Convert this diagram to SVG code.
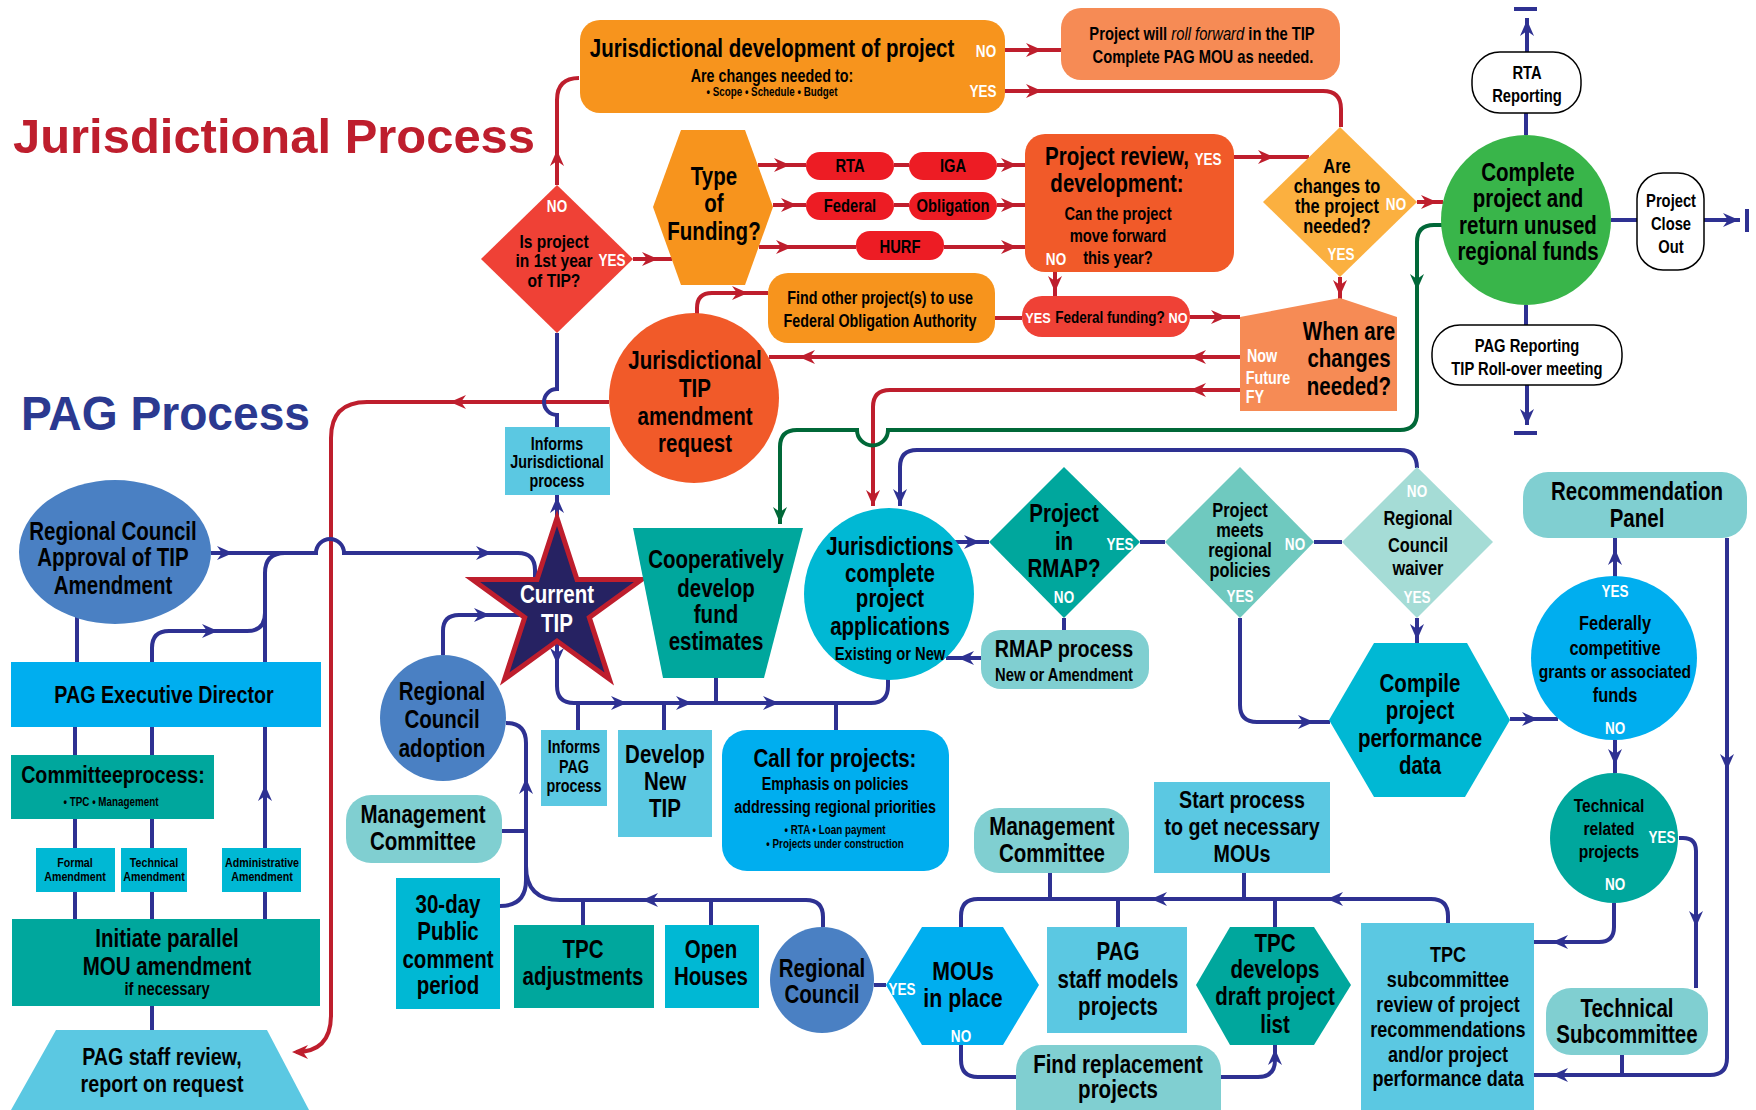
<svg xmlns="http://www.w3.org/2000/svg" width="1756" height="1110" viewBox="0 0 1756 1110">
<style>
text{font-family:"Liberation Sans",Arial,sans-serif;font-weight:bold;text-anchor:middle;fill:#000;transform-box:fill-box;transform-origin:center;transform:scaleX(.82)}
text.w{fill:#fff}
text.title{transform:none;text-anchor:start}
.f26{font-size:26px}.f25{font-size:25px}.f24{font-size:24px}.f22{font-size:22px}.f20{font-size:20px}.f19{font-size:19px}.f18{font-size:18px}.f17{font-size:17.5px}.f16{font-size:16.5px}.f15{font-size:15.5px}.f13{font-size:13px}.f12{font-size:12px}
.lr,.lb,.lg{fill:none;stroke-width:4}
.lr{stroke:#be1e2d}.lb{stroke:#2e3192}.lg{stroke:#006838}
.ar{fill:#be1e2d}.ab{fill:#2e3192}.ag{fill:#006838}
.orange{fill:#f7941d}.salmon{fill:#f68b55}.redor{fill:#f15a29}.red{fill:#ef4136}.pill{fill:#ed1c24}.yel{fill:#fbb040}.green{fill:#39b54a}
.teal{fill:#00a79d}.lteal{fill:#80cfd1}.mteal{fill:#6fc9bf}.pteal{fill:#a5dcd6}.cyan{fill:#00b8d4}.sky{fill:#00aeef}.lsky{fill:#5bc8e2}.blue{fill:#4a80c3}
.outline{fill:#fff;stroke:#000;stroke-width:1.5}
</style>
<defs><path id="ah" d="M-9,-7 L7,0 L-9,7 L-4,0 Z"/></defs>

<g id="titles">
<text class="title" x="13" y="153" style="font-size:49px;fill:#be1e2d" textLength="522" lengthAdjust="spacingAndGlyphs">Jurisdictional Process</text>
<text class="title" x="21" y="430" style="font-size:48px;fill:#2b3990" textLength="289" lengthAdjust="spacingAndGlyphs">PAG Process</text>
</g>

<g id="connectors">
<path class="lr" d="M557,185 V100 Q557,78 579,78"/>
<path class="lr" d="M1005,50 H1061"/>
<path class="lr" d="M1005,91 H1323 Q1341,91 1341,109 V127"/>
<path class="lr" d="M633,259 H672"/>
<path class="lr" d="M758,165 H806 M894,165 H909 M997,165 H1025"/>
<path class="lr" d="M773,205 H806 M894,205 H909 M997,205 H1025"/>
<path class="lr" d="M759,247 H856 M944,247 H1025"/>
<path class="lr" d="M1234,157 H1309"/>
<path class="lr" d="M1417,202 H1443"/>
<path class="lr" d="M1340,277 V300"/>
<path class="lr" d="M1055,272 V296"/>
<path class="lr" d="M1022,318 H995"/>
<path class="lr" d="M1190,317 H1240"/>
<path class="lr" d="M1240,357 H769"/>
<path class="lr" d="M1240,390 H890 Q873,390 873,407 V506"/>
<path class="lr" d="M697,314 V308 Q697,293 712,293 H768"/>
<path class="lr" d="M609,402 H367 Q331,402 331,438 V1015 Q331,1052 296,1052"/>
<use href="#ah" class="ar" transform="translate(557,157) rotate(-90)"/>
<use href="#ah" class="ar" transform="translate(1035,50)"/>
<use href="#ah" class="ar" transform="translate(1035,91)"/>
<use href="#ah" class="ar" transform="translate(651,259)"/>
<use href="#ah" class="ar" transform="translate(783,165)"/>
<use href="#ah" class="ar" transform="translate(1010,165)"/>
<use href="#ah" class="ar" transform="translate(790,205)"/>
<use href="#ah" class="ar" transform="translate(1010,205)"/>
<use href="#ah" class="ar" transform="translate(785,247)"/>
<use href="#ah" class="ar" transform="translate(1010,247)"/>
<use href="#ah" class="ar" transform="translate(1267,157)"/>
<use href="#ah" class="ar" transform="translate(1430,202)"/>
<use href="#ah" class="ar" transform="translate(1340,289) rotate(90)"/>
<use href="#ah" class="ar" transform="translate(1055,285) rotate(90)"/>
<use href="#ah" class="ar" transform="translate(1220,317)"/>
<use href="#ah" class="ar" transform="translate(1197,357) rotate(180)"/>
<use href="#ah" class="ar" transform="translate(806,357) rotate(180)"/>
<use href="#ah" class="ar" transform="translate(1197,390) rotate(180)"/>
<use href="#ah" class="ar" transform="translate(873,499) rotate(90)"/>
<use href="#ah" class="ar" transform="translate(741,293)"/>
<use href="#ah" class="ar" transform="translate(457,402) rotate(180)"/>
<use href="#ah" class="ar" transform="translate(299,1052) rotate(180)"/>
<path class="lg" d="M1443,225 H1434 Q1417,225 1417,242 V413 Q1417,430 1400,430 H888 A15.5,15.5 0 0 1 857,430 H797 Q780,430 780,447 V524"/>
<use href="#ah" class="ag" transform="translate(1417,283) rotate(90)"/>
<use href="#ah" class="ag" transform="translate(780,516) rotate(90)"/>
<path class="lb" d="M557,427 V415 A13,13 0 0 1 557,389 V333"/>
<path class="lb" d="M557,518 V495"/>
<path class="lb" d="M211,553 H316 A14,14 0 0 1 344,553 H518 Q535,553 535,570 V580"/>
<path class="lb" d="M443,655 V631 Q443,615 459,615 H521"/>
<path class="lb" d="M557,641 V686 Q557,703 574,703 H871 Q888,703 888,686 V679"/>
<path class="lb" d="M578,703 V730 M664,703 V730 M716,678 V703 M836,703 V730"/>
<path class="lb" d="M955,542 H989"/>
<path class="lb" d="M1140,542 H1165 M1314,542 H1342"/>
<path class="lb" d="M1064,618 V630"/>
<path class="lb" d="M981,658 H946"/>
<path class="lb" d="M1417,468 Q1417,450 1400,450 H917 Q900,450 900,467 V506"/>
<path class="lb" d="M1417,618 V643"/>
<path class="lb" d="M1240,618 V705 Q1240,722 1257,722 H1330"/>
<path class="lb" d="M1510,719 H1558"/>
<path class="lb" d="M1615,577 V538"/>
<path class="lb" d="M1615,740 V773"/>
<path class="lb" d="M1679,838 H1683 Q1696,838 1696,851 V988"/>
<path class="lb" d="M1614,903 V927 Q1614,942 1599,942 H1534"/>
<path class="lb" d="M1727,538 V1058 Q1727,1075 1710,1075 H1534"/>
<path class="lb" d="M1622,1055 V1075"/>
<path class="lb" d="M1448,923 V916 Q1448,899 1431,899 H978 Q961,899 961,916 V927"/>
<path class="lb" d="M1275,899 V927 M1244,873 V899 M1118,899 V927 M1050,873 V899"/>
<path class="lb" d="M961,1045 V1060 Q961,1077 978,1077 H1016"/>
<path class="lb" d="M1220,1077 H1258 Q1275,1077 1275,1060 V1045"/>
<path class="lb" d="M874,985 H886"/>
<path class="lb" d="M823,927 V917 Q823,900 806,900 H560 Q526,900 526,866"/>
<path class="lb" d="M583,900 V925 M711,900 V925"/>
<path class="lb" d="M526,880 V743 Q526,723 506,723"/>
<path class="lb" d="M500,906 Q526,906 526,880"/>
<path class="lb" d="M502,831 H526"/>
<path class="lb" d="M77,617 V662"/>
<path class="lb" d="M152,662 V648 Q152,631 169,631 H247 Q265,631 265,613"/>
<path class="lb" d="M265,662 V573 Q265,553 285,553"/>
<path class="lb" d="M75,727 V755 M152,727 V755 M75,819 V848 M152,819 V848 M75,892 V919 M152,892 V919 M265,892 V919 M265,848 V727 M152,1006 V1030"/>
<path class="lb" d="M1526,135 V113 M1527,52 V18 M1611,220 H1637 M1704,220 H1740 M1526,305 V325 M1527,385 V425"/>
<rect class="ab" x="1514" y="7" width="23" height="4"/>
<rect class="ab" x="1745" y="209" width="4" height="23"/>
<rect class="ab" x="1514" y="431" width="23" height="4"/>
<use href="#ah" class="ab" transform="translate(1527,27) rotate(-90)"/>
<use href="#ah" class="ab" transform="translate(1732,220)"/>
<use href="#ah" class="ab" transform="translate(1527,418) rotate(90)"/>
<use href="#ah" class="ab" transform="translate(557,504) rotate(-90)"/>
<use href="#ah" class="ab" transform="translate(226,553)"/>
<use href="#ah" class="ab" transform="translate(485,553)"/>
<use href="#ah" class="ab" transform="translate(483,615)"/>
<use href="#ah" class="ab" transform="translate(557,657) rotate(90)"/>
<use href="#ah" class="ab" transform="translate(620,703)"/>
<use href="#ah" class="ab" transform="translate(685,703)"/>
<use href="#ah" class="ab" transform="translate(772,703)"/>
<use href="#ah" class="ab" transform="translate(973,542)"/>
<use href="#ah" class="ab" transform="translate(965,658) rotate(180)"/>
<use href="#ah" class="ab" transform="translate(900,498) rotate(90)"/>
<use href="#ah" class="ab" transform="translate(1417,633) rotate(90)"/>
<use href="#ah" class="ab" transform="translate(1307,722)"/>
<use href="#ah" class="ab" transform="translate(1531,719)"/>
<use href="#ah" class="ab" transform="translate(1615,556) rotate(-90)"/>
<use href="#ah" class="ab" transform="translate(1615,758) rotate(90)"/>
<use href="#ah" class="ab" transform="translate(1696,920) rotate(90)"/>
<use href="#ah" class="ab" transform="translate(1559,942) rotate(180)"/>
<use href="#ah" class="ab" transform="translate(1727,763) rotate(90)"/>
<use href="#ah" class="ab" transform="translate(1559,1075) rotate(180)"/>
<use href="#ah" class="ab" transform="translate(1334,899) rotate(180)"/>
<use href="#ah" class="ab" transform="translate(1158,899) rotate(180)"/>
<use href="#ah" class="ab" transform="translate(1275,1056) rotate(-90)"/>
<use href="#ah" class="ab" transform="translate(649,900) rotate(180)"/>
<use href="#ah" class="ab" transform="translate(526,785) rotate(-90)"/>
<use href="#ah" class="ab" transform="translate(211,631)"/>
<use href="#ah" class="ab" transform="translate(265,792) rotate(-90)"/>
</g>

<g id="n-jurisdev">
<rect class="orange" x="580" y="20" width="425" height="93" rx="20"/>
<text class="f25" x="772" y="57">Jurisdictional development of project</text>
<text class="f17" x="772" y="82">Are changes needed to:</text>
<text class="f12" x="772" y="96">• Scope  • Schedule  • Budget</text>
<text class="w f16" x="986" y="57">NO</text>
<text class="w f16" x="983" y="97">YES</text>
</g>
<g id="n-rollforward">
<rect class="salmon" x="1061" y="8" width="279" height="72" rx="20"/>
<text class="f18" x="1202" y="40">Project will <tspan font-style="italic" font-weight="normal">roll forward</tspan> in the TIP</text>
<text class="f18" x="1203" y="63">Complete PAG MOU as needed.</text>
</g>
<g id="n-firstyear">
<polygon class="red" points="557,185 633,259 557,333 481,259"/>
<text class="w f16" x="557" y="212">NO</text>
<text class="f19" x="554" y="248">Is project</text>
<text class="f19" x="554" y="267">in 1st year</text>
<text class="f19" x="554" y="287">of TIP?</text>
<text class="w f16" x="612" y="266">YES</text>
</g>
<g id="n-funding">
<polygon class="orange" points="681,130 745,130 773,207 745,285 681,285 653,207"/>
<text class="f25" x="714" y="185">Type</text>
<text class="f25" x="714" y="212">of</text>
<text class="f25" x="714" y="240">Funding?</text>
</g>
<g id="n-rta"><rect class="pill" x="806" y="152" width="88" height="28" rx="14"/><text class="f18" x="850" y="172">RTA</text></g>
<g id="n-iga"><rect class="pill" x="909" y="152" width="88" height="28" rx="14"/><text class="f18" x="953" y="172">IGA</text></g>
<g id="n-federal"><rect class="pill" x="806" y="192" width="88" height="28" rx="14"/><text class="f18" x="850" y="212">Federal</text></g>
<g id="n-obligation"><rect class="pill" x="909" y="192" width="88" height="28" rx="14"/><text class="f18" x="953" y="212">Obligation</text></g>
<g id="n-hurf"><rect class="pill" x="856" y="231" width="88" height="29" rx="14"/><text class="f18" x="900" y="253">HURF</text></g>
<g id="n-review">
<rect class="redor" x="1025" y="134" width="209" height="138" rx="20"/>
<text class="f25" x="1117" y="165">Project review,</text>
<text class="w f16" x="1208" y="165">YES</text>
<text class="f25" x="1117" y="192">development:</text>
<text class="f18" x="1118" y="220">Can the project</text>
<text class="f18" x="1118" y="242">move forward</text>
<text class="f18" x="1118" y="264">this year?</text>
<text class="w f16" x="1056" y="265">NO</text>
</g>
<g id="n-changes">
<polygon class="yel" points="1340,127 1417,202 1340,277 1263,202"/>
<text class="f20" x="1337" y="173">Are</text>
<text class="f20" x="1337" y="193">changes to</text>
<text class="f20" x="1337" y="213">the project</text>
<text class="f20" x="1337" y="233">needed?</text>
<text class="w f16" x="1396" y="210">NO</text>
<text class="w f16" x="1341" y="260">YES</text>
</g>
<g id="n-complete">
<ellipse class="green" cx="1526" cy="220" rx="85" ry="85"/>
<text class="f25" x="1528" y="181">Complete</text>
<text class="f25" x="1528" y="207">project and</text>
<text class="f25" x="1528" y="234">return unused</text>
<text class="f25" x="1528" y="260">regional funds</text>
</g>
<g id="n-rtareport">
<rect class="outline" x="1472" y="52" width="109" height="61" rx="28"/>
<text class="f18" x="1527" y="79">RTA</text>
<text class="f18" x="1527" y="102">Reporting</text>
</g>
<g id="n-closeout">
<rect class="outline" x="1637" y="173" width="67" height="97" rx="26"/>
<text class="f18" x="1671" y="207">Project</text>
<text class="f18" x="1671" y="230">Close</text>
<text class="f18" x="1671" y="253">Out</text>
</g>
<g id="n-pagreport">
<rect class="outline" x="1432" y="325" width="190" height="60" rx="28"/>
<text class="f18" x="1527" y="352">PAG Reporting</text>
<text class="f18" x="1527" y="375">TIP Roll-over meeting</text>
</g>
<g id="n-whenare">
<polygon class="salmon" points="1240,317 1340,298 1397,317 1397,411 1240,411"/>
<text class="f25" x="1349" y="340">When are</text>
<text class="f25" x="1349" y="367">changes</text>
<text class="f25" x="1349" y="395">needed?</text>
<text class="w f17" x="1262" y="362">Now</text>
<text class="w f17" x="1268" y="384">Future</text>
<text class="w f17" x="1255" y="403">FY</text>
</g>
<g id="n-fedfunding">
<rect class="red" x="1022" y="296" width="168" height="41" rx="20"/>
<text class="w f15" x="1038" y="323">YES</text>
<text class="f16" x="1110" y="323">Federal funding?</text>
<text class="w f15" x="1178" y="323">NO</text>
</g>
<g id="n-findother">
<rect class="orange" x="768" y="273" width="227" height="70" rx="20"/>
<text class="f17" x="880" y="304">Find other project(s) to use</text>
<text class="f17" x="880" y="327">Federal Obligation Authority</text>
</g>
<g id="n-jtip">
<ellipse class="redor" cx="694" cy="398" rx="85" ry="85"/>
<text class="f25" x="695" y="369">Jurisdictional</text>
<text class="f25" x="695" y="397">TIP</text>
<text class="f25" x="695" y="425">amendment</text>
<text class="f25" x="695" y="452">request</text>
</g>
<g id="n-informsj">
<rect class="lsky" x="505" y="427" width="105" height="68"/>
<text class="f17" x="557" y="450">Informs</text>
<text class="f17" x="557" y="468">Jurisdictional</text>
<text class="f17" x="557" y="487">process</text>
</g>
<g id="n-currenttip">
<polygon points="557,518 577,579.5 641.6,579.5 589.3,617.5 609.3,679 557,641 504.7,679 524.7,617.5 472.4,579.5 537,579.5" fill="#262262" stroke="#be1e2d" stroke-width="5"/>
<text class="w f25" x="557" y="603">Current</text>
<text class="w f25" x="557" y="632">TIP</text>
</g>
<g id="n-coop">
<polygon class="teal" points="633,528 803,528 764,678 663,678"/>
<text class="f25" x="716" y="568">Cooperatively</text>
<text class="f25" x="716" y="597">develop</text>
<text class="f25" x="716" y="623">fund</text>
<text class="f25" x="716" y="650">estimates</text>
</g>
<g id="n-jcomplete">
<ellipse class="cyan" cx="889" cy="594" rx="85" ry="86"/>
<text class="f25" x="890" y="555">Jurisdictions</text>
<text class="f25" x="890" y="582">complete</text>
<text class="f25" x="890" y="607">project</text>
<text class="f25" x="890" y="635">applications</text>
<text class="f18" x="890" y="660">Existing or New</text>
</g>
<g id="n-rmapq">
<polygon class="teal" points="1064,467 1140,542 1064,618 989,542"/>
<text class="f25" x="1064" y="522">Project</text>
<text class="f25" x="1064" y="550">in</text>
<text class="f25" x="1064" y="577">RMAP?</text>
<text class="w f16" x="1120" y="550">YES</text>
<text class="w f16" x="1064" y="603">NO</text>
</g>
<g id="n-rmapproc">
<rect class="lteal" x="981" y="630" width="168" height="59" rx="20"/>
<text class="f24" x="1064" y="657">RMAP process</text>
<text class="f18" x="1064" y="681">New or Amendment</text>
</g>
<g id="n-meets">
<polygon class="mteal" points="1240,467 1314,542 1240,618 1165,542"/>
<text class="f20" x="1240" y="517">Project</text>
<text class="f20" x="1240" y="537">meets</text>
<text class="f20" x="1240" y="557">regional</text>
<text class="f20" x="1240" y="577">policies</text>
<text class="w f16" x="1295" y="550">NO</text>
<text class="w f16" x="1240" y="602">YES</text>
</g>
<g id="n-waiver">
<polygon class="pteal" points="1417,467 1493,542 1417,618 1342,542"/>
<text class="w f16" x="1417" y="497">NO</text>
<text class="f20" x="1418" y="525">Regional</text>
<text class="f20" x="1418" y="552">Council</text>
<text class="f20" x="1418" y="575">waiver</text>
<text class="w f16" x="1417" y="603">YES</text>
</g>
<g id="n-compile">
<polygon class="cyan" points="1374,643 1467,643 1510,720 1465,797 1374,797 1329,720"/>
<text class="f25" x="1420" y="692">Compile</text>
<text class="f25" x="1420" y="719">project</text>
<text class="f25" x="1420" y="747">performance</text>
<text class="f25" x="1420" y="774">data</text>
</g>
<g id="n-fedcomp">
<ellipse class="sky" cx="1614" cy="658" rx="83" ry="82"/>
<text class="w f16" x="1615" y="597">YES</text>
<text class="f20" x="1615" y="630">Federally</text>
<text class="f20" x="1615" y="655">competitive</text>
<text class="f19" x="1615" y="678">grants or associated</text>
<text class="f20" x="1615" y="702">funds</text>
<text class="w f16" x="1615" y="734">NO</text>
</g>
<g id="n-recpanel">
<rect class="lteal" x="1523" y="472" width="224" height="66" rx="25"/>
<text class="f25" x="1637" y="500">Recommendation</text>
<text class="f25" x="1637" y="527">Panel</text>
</g>
<g id="n-techrel">
<ellipse class="teal" cx="1614" cy="838" rx="64" ry="65"/>
<text class="f19" x="1609" y="812">Technical</text>
<text class="f19" x="1609" y="835">related</text>
<text class="f19" x="1609" y="858">projects</text>
<text class="w f16" x="1615" y="890">NO</text>
<text class="w f16" x="1662" y="843">YES</text>
</g>
<g id="n-techsub">
<rect class="lteal" x="1546" y="988" width="162" height="67" rx="25"/>
<text class="f25" x="1627" y="1017">Technical</text>
<text class="f25" x="1627" y="1043">Subcommittee</text>
</g>
<g id="n-tpcsub">
<rect class="lsky" x="1361" y="923" width="173" height="187"/>
<text class="f22" x="1448" y="962">TPC</text>
<text class="f22" x="1448" y="987">subcommittee</text>
<text class="f22" x="1448" y="1012">review of project</text>
<text class="f22" x="1448" y="1037">recommendations</text>
<text class="f22" x="1448" y="1062">and/or project</text>
<text class="f22" x="1448" y="1086">performance data</text>
</g>
<g id="n-startproc">
<rect class="lsky" x="1154" y="782" width="176" height="91"/>
<text class="f24" x="1242" y="808">Start process</text>
<text class="f24" x="1242" y="835">to get necessary</text>
<text class="f24" x="1242" y="862">MOUs</text>
</g>
<g id="n-mgmt2">
<rect class="lteal" x="974" y="808" width="155" height="65" rx="25"/>
<text class="f25" x="1052" y="835">Management</text>
<text class="f25" x="1052" y="862">Committee</text>
</g>
<g id="n-pagstaff">
<rect class="lsky" x="1047" y="927" width="140" height="106"/>
<text class="f25" x="1118" y="960">PAG</text>
<text class="f25" x="1118" y="988">staff models</text>
<text class="f25" x="1118" y="1015">projects</text>
</g>
<g id="n-tpcdev">
<polygon class="teal" points="1230,927 1314,927 1351,985 1314,1045 1230,1045 1196,985"/>
<text class="f25" x="1275" y="952">TPC</text>
<text class="f25" x="1275" y="978">develops</text>
<text class="f25" x="1275" y="1005">draft project</text>
<text class="f25" x="1275" y="1033">list</text>
</g>
<g id="n-findrep">
<rect class="lteal" x="1016" y="1045" width="205" height="90" rx="25"/>
<text class="f25" x="1118" y="1073">Find replacement</text>
<text class="f25" x="1118" y="1098">projects</text>
</g>
<g id="n-mous">
<polygon class="sky" points="922,927 1003,927 1039,985 1003,1045 922,1045 886,985"/>
<text class="f26" x="963" y="980">MOUs</text>
<text class="f26" x="963" y="1007">in place</text>
<text class="w f16" x="902" y="995">YES</text>
<text class="w f16" x="961" y="1042">NO</text>
</g>
<g id="n-regcouncil">
<ellipse class="blue" cx="822" cy="980" rx="52" ry="53"/>
<text class="f25" x="822" y="977">Regional</text>
<text class="f25" x="822" y="1003">Council</text>
</g>
<g id="n-openhouses">
<rect class="cyan" x="665" y="925" width="94" height="83"/>
<text class="f25" x="711" y="958">Open</text>
<text class="f25" x="711" y="985">Houses</text>
</g>
<g id="n-tpcadj">
<rect class="teal" x="514" y="925" width="140" height="83"/>
<text class="f25" x="583" y="958">TPC</text>
<text class="f25" x="583" y="985">adjustments</text>
</g>
<g id="n-30day">
<rect class="cyan" x="396" y="878" width="104" height="131"/>
<text class="f25" x="448" y="913">30-day</text>
<text class="f25" x="448" y="940">Public</text>
<text class="f25" x="448" y="968">comment</text>
<text class="f25" x="448" y="994">period</text>
</g>
<g id="n-mgmt1">
<rect class="lteal" x="346" y="795" width="156" height="68" rx="25"/>
<text class="f25" x="423" y="823">Management</text>
<text class="f25" x="423" y="850">Committee</text>
</g>
<g id="n-rcadopt">
<ellipse class="blue" cx="443" cy="718" rx="63" ry="63"/>
<text class="f25" x="442" y="700">Regional</text>
<text class="f25" x="442" y="728">Council</text>
<text class="f25" x="442" y="757">adoption</text>
</g>
<g id="n-informspag">
<rect class="lsky" x="541" y="730" width="66" height="76"/>
<text class="f17" x="574" y="753">Informs</text>
<text class="f17" x="574" y="773">PAG</text>
<text class="f17" x="574" y="792">process</text>
</g>
<g id="n-devnew">
<rect class="lsky" x="618" y="730" width="94" height="107"/>
<text class="f25" x="665" y="763">Develop</text>
<text class="f25" x="665" y="790">New</text>
<text class="f25" x="665" y="817">TIP</text>
</g>
<g id="n-call">
<rect class="sky" x="722" y="730" width="227" height="141" rx="25"/>
<text class="f25" x="835" y="767">Call for projects:</text>
<text class="f17" x="835" y="790">Emphasis on policies</text>
<text class="f17" x="835" y="813">addressing regional priorities</text>
<text class="f12" x="835" y="834">• RTA • Loan payment</text>
<text class="f12" x="835" y="848">• Projects under construction</text>
</g>
<g id="n-approval">
<ellipse class="blue" cx="115" cy="552" rx="96" ry="72"/>
<text class="f25" x="113" y="540">Regional Council</text>
<text class="f25" x="113" y="566">Approval of TIP</text>
<text class="f25" x="113" y="594">Amendment</text>
</g>
<g id="n-pagexec">
<rect class="sky" x="11" y="662" width="310" height="65"/>
<text class="f24" x="164" y="703">PAG Executive Director</text>
</g>
<g id="n-committee">
<rect class="teal" x="11" y="755" width="203" height="64"/>
<text class="f24" x="113" y="783">Committeeprocess:</text>
<text class="f12" x="111" y="806">• TPC   • Management</text>
</g>
<g id="n-formal">
<rect class="cyan" x="36" y="848" width="79" height="44"/>
<text class="f13" x="75" y="867">Formal</text>
<text class="f13" x="75" y="881">Amendment</text>
</g>
<g id="n-technical">
<rect class="cyan" x="121" y="848" width="66" height="44"/>
<text class="f13" x="154" y="867">Technical</text>
<text class="f13" x="154" y="881">Amendment</text>
</g>
<g id="n-admin">
<rect class="cyan" x="222" y="848" width="79" height="44"/>
<text class="f13" x="262" y="867">Administrative</text>
<text class="f13" x="262" y="881">Amendment</text>
</g>
<g id="n-initiate">
<rect class="teal" x="12" y="919" width="308" height="87"/>
<text class="f25" x="167" y="947">Initiate  parallel</text>
<text class="f25" x="167" y="975">MOU amendment</text>
<text class="f18" x="167" y="995">if necessary</text>
</g>
<g id="n-pagreview">
<polygon class="lsky" points="56,1030 267,1030 309,1110 11,1110"/>
<text class="f24" x="162" y="1065">PAG staff review,</text>
<text class="f24" x="162" y="1092">report on request</text>
</g>
</svg>
